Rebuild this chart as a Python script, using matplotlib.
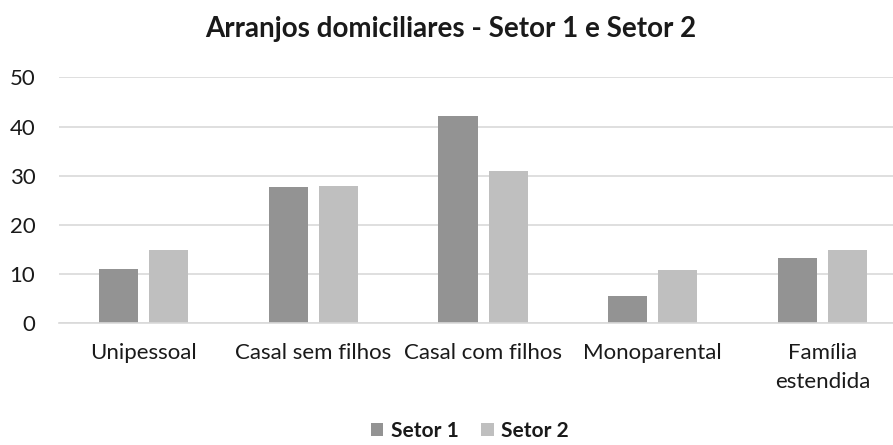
import matplotlib.pyplot as plt
import numpy as np

plt.rcParams["font.family"] = ["Lato", "DejaVu Sans"]

categories = ["Unipessoal", "Casal sem filhos", "Casal com filhos", "Monoparental", "Família\nestendida"]
setor1 = [11.0, 27.7, 42.1, 5.5, 13.2]
setor2 = [14.9, 27.9, 30.9, 10.9, 14.9]
series_names = ["Setor 1", "Setor 2"]


def main():
    fig = plt.figure(figsize=(8.93, 4.45), dpi=100)
    fig.patch.set_facecolor("#fff")
    # chart area runs slightly past the right edge, as in the cropped original
    ax = fig.add_axes([0.066, 0.2735, 0.95, 0.5525])

    x = np.arange(len(categories))
    w = 0.231
    gap = 0.065
    ax.bar(x - (w + gap) / 2, setor1, width=w, color="#939393", label=series_names[0], zorder=2)
    ax.bar(x + (w + gap) / 2, setor2, width=w, color="#bfbfbf", label=series_names[1], zorder=2)

    ax.set_xlim(-0.5, len(categories) - 0.5)
    ax.set_ylim(0, 50)
    ax.set_yticks(range(0, 51, 10))
    ax.grid(axis="y", color="#d9d9d9", linewidth=1.2, zorder=0)
    for s in ["top", "right", "left"]:
        ax.spines[s].set_visible(False)
    ax.spines["bottom"].set_color("#d9d9d9")
    ax.spines["bottom"].set_linewidth(1.2)
    ax.tick_params(length=0, labelsize=16, colors="#1a1a1a")
    ax.tick_params(axis="x", pad=14)
    ax.tick_params(axis="y", pad=17)
    ax.set_xticks(x)
    ax.set_xticklabels(categories, va="top", linespacing=1.55)

    fig.text(0.505, 0.935, "Arranjos domiciliares - Setor 1 e Setor 2", ha="center", va="center",
             fontsize=20, fontweight="bold", color="#1a1a1a")

    leg = fig.legend(loc="center", bbox_to_anchor=(0.526, 0.032), ncol=2, frameon=False,
                     handlelength=0.6, handleheight=0.6, handletextpad=0.35, columnspacing=1.1,
                     borderpad=0.1, prop={"weight": "bold", "size": 15})
    for t in leg.get_texts():
        t.set_color("#1a1a1a")

    fig.savefig("out.png", dpi=100)


if __name__ == "__main__":
    main()
